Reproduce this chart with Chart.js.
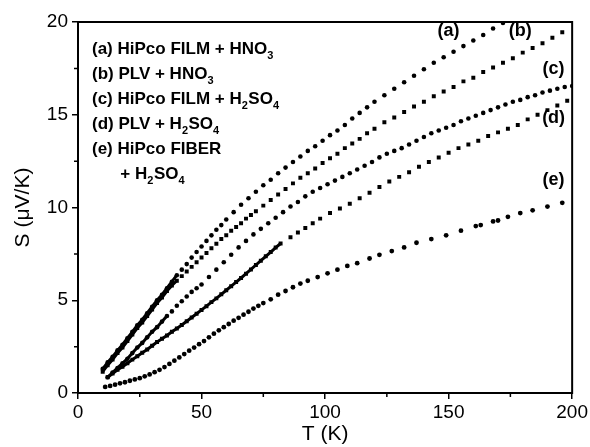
<!DOCTYPE html>
<html>
<head>
<meta charset="utf-8">
<script src="https://cdn.jsdelivr.net/npm/chart.js@4.4.1/dist/chart.umd.min.js"></script>
<style>
  html, body { margin: 0; padding: 0; background: #fff; }
  #wrap { width: 590px; height: 447px; }
</style>
</head>
<body>
<div id="wrap"><canvas id="seebeck" width="590" height="447"></canvas></div>
<script>
// --- data (T in K, S in uV/K) ---
const tA = [10,12,14,16,18,20,22,24,26,28,30,32,34,36,38,40,42,44,46,48,50,52,54,56,58,60,63,66,69,72,75,78,81,84,87,90,93,96,99,102,105,108,111,114,117,120,124,128,132,136,140,144,148,152,156,160,164,168,172];
const sA = [1.3,1.65,1.95,2.3,2.6,2.95,3.3,3.65,3.95,4.3,4.65,5.0,5.3,5.65,6.0,6.35,6.65,6.95,7.3,7.6,7.9,8.2,8.5,8.8,9.05,9.35,9.75,10.15,10.5,10.85,11.2,11.5,11.85,12.15,12.45,12.75,13.05,13.3,13.6,13.9,14.15,14.45,14.8,15.1,15.4,15.7,16.05,16.4,16.75,17.1,17.45,17.8,18.1,18.4,18.7,19.0,19.3,19.65,19.95];

const tB = [10,12,14,16,18,20,22,24,26,28,30,32,34,36,38,40,42,44,46,48,50,52,54,56,58,60,62,64,66,68,70,72,75,78,81,84,87,90,93,96,99,102,105,108,111,114,117,120,124,128,132,136,140,144,148,152,156,160,164,168,172,176,180,184,188,192,196];
const sB = [1.15,1.5,1.8,2.15,2.45,2.8,3.15,3.5,3.8,4.15,4.5,4.85,5.15,5.5,5.8,6.05,6.3,6.55,6.8,7.05,7.3,7.55,7.8,8.05,8.3,8.5,8.75,8.95,9.15,9.4,9.6,9.8,10.1,10.4,10.7,11.0,11.3,11.6,11.85,12.1,12.4,12.65,12.9,13.2,13.45,13.7,14.0,14.25,14.6,14.85,15.15,15.45,15.7,16.0,16.25,16.5,16.8,17.0,17.3,17.55,17.8,18.05,18.35,18.6,18.85,19.15,19.45];

const tC = [12,14,16,18,20,22,24,26,28,30,32,34,36,38,40,42,44,46,48,50,53,56,59,62,65,68,71,74,77,80,83,86,89,92,95,98,101,104,107,110,113,116,119,122,125,128,131,134,137,140,143,146,149,152,155,158,161,164,167,170,173,176,179,182,185,188,191,194,197,200];
const sC = [0.85,1.1,1.35,1.6,1.85,2.15,2.45,2.7,3.0,3.3,3.55,3.85,4.15,4.4,4.7,4.95,5.2,5.45,5.65,5.85,6.25,6.65,7.05,7.45,7.85,8.2,8.55,8.85,9.15,9.45,9.75,10.05,10.3,10.6,10.85,11.05,11.25,11.45,11.65,11.85,12.05,12.25,12.45,12.7,12.9,13.05,13.2,13.4,13.6,13.8,14.0,14.15,14.3,14.45,14.65,14.8,14.95,15.1,15.25,15.4,15.55,15.7,15.8,15.95,16.05,16.2,16.3,16.4,16.5,16.55];

const tD = [12,14,16,18,20,22,24,26,28,30,32,34,36,38,40,42,44,46,48,50,52,54,56,58,60,62,64,66,68,70,72,74,76,78,80,82,86,89,92,95,98,102,106,110,114,118,122,126,130,134,138,142,146,150,154,158,162,166,170,174,178,182,186,190,194,198];
const sD = [0.85,1.05,1.25,1.42,1.6,1.8,1.98,2.17,2.35,2.55,2.75,2.92,3.1,3.3,3.48,3.67,3.87,4.07,4.27,4.48,4.68,4.9,5.1,5.32,5.54,5.76,5.98,6.2,6.43,6.66,6.9,7.13,7.37,7.6,7.84,8.06,8.4,8.65,8.9,9.15,9.4,9.7,9.95,10.2,10.5,10.8,11.1,11.4,11.65,11.9,12.2,12.45,12.7,12.95,13.2,13.4,13.6,13.85,14.05,14.25,14.45,14.75,15.0,15.25,15.5,15.75];

const tE = [11,13,15,17,19,21,23,25,27,29,31,33,35,37,39,41,43,45,47,49,51,53,55,57,59,61,63,65,67,69,71,73,75,78,81,84,87,90,93,97,101,105,109,113,118,122,127,132,137,143,149,155,161,163,168,170,174,179,184,190,196];
const sE = [0.33,0.38,0.45,0.52,0.58,0.66,0.73,0.8,0.9,1.0,1.12,1.25,1.4,1.57,1.74,1.92,2.1,2.28,2.45,2.63,2.8,3.0,3.2,3.38,3.55,3.72,3.9,4.05,4.22,4.38,4.55,4.7,4.85,5.05,5.3,5.5,5.7,5.9,6.05,6.25,6.45,6.65,6.85,7.0,7.25,7.45,7.65,7.85,8.1,8.3,8.5,8.75,9.0,9.05,9.25,9.3,9.5,9.7,9.85,10.05,10.25];

// dense (near-continuous) low-T part of each run
const denseUpTo = { a: 40, b: 40, c: 36, d: 82, e: 0 };

const legendLines = [
    [['(a) HiPco FILM + HNO', 0], ['3', 1]],
    [['(b) PLV + HNO', 0], ['3', 1]],
    [['(c) HiPco FILM + H', 0], ['2', 1], ['SO', 0], ['4', 1]],
    [['(d) PLV + H', 0], ['2', 1], ['SO', 0], ['4', 1]],
    [['(e) HiPco FIBER', 0]],
    [['      + H', 0], ['2', 1], ['SO', 0], ['4', 1]]
];

// curve tags, placed in data coordinates
const curveTags = [
    { text: '(a)', x: 150, y: 19.5 },
    { text: '(b)', x: 179, y: 19.5 },
    { text: '(c)', x: 192.5, y: 17.45 },
    { text: '(d)', x: 192.5, y: 14.8 },
    { text: '(e)', x: 192.5, y: 11.5 }
];

const xMinor = [25, 75, 125, 175];
const yMinor = [2.5, 7.5, 12.5, 17.5];

const FONT = "'Liberation Sans', Arial, Helvetica, sans-serif";
Chart.defaults.font.family = FONT;
Chart.defaults.color = '#000';

function pairs(xs, ys) {
    return xs.map((x, i) => ({ x: x, y: ys[i] }));
}

function run(key, xs, ys, style, r) {
    const limit = denseUpTo[key];
    return {
        label: key,
        data: pairs(xs, ys),
        showLine: limit > 0,
        borderColor: '#000',
        borderWidth: 3,
        backgroundColor: '#000',
        pointBackgroundColor: '#000',
        pointBorderWidth: 0,
        pointRadius: r,
        pointStyle: style,
        segment: {
            borderColor: ctx => ctx.p1.parsed.x <= limit ? '#000' : 'rgba(0,0,0,0)'
        }
    };
}

const decorPlugin = {
    id: 'decor',
    afterDraw(chart) {
        const ctx = chart.ctx;
        const area = chart.chartArea;
        const xs = chart.scales.x;
        const ys = chart.scales.y;
        ctx.save();
        // frame
        ctx.strokeStyle = '#000';
        ctx.lineWidth = 2;
        ctx.strokeRect(area.left, area.top, area.right - area.left, area.bottom - area.top);
        // minor ticks
        ctx.lineWidth = 1.5;
        ctx.beginPath();
        xMinor.forEach(v => {
            const p = xs.getPixelForValue(v);
            ctx.moveTo(p, area.bottom);
            ctx.lineTo(p, area.bottom + 4);
        });
        yMinor.forEach(v => {
            const p = ys.getPixelForValue(v);
            ctx.moveTo(area.left, p);
            ctx.lineTo(area.left - 4, p);
        });
        ctx.stroke();

        // legend block
        ctx.fillStyle = '#000';
        ctx.textBaseline = 'alphabetic';
        ctx.textAlign = 'left';
        legendLines.forEach((runs, i) => {
            let x = 92;
            const y = 54 + i * 25;
            runs.forEach(([txt, sub]) => {
                ctx.font = sub ? 'bold 11px ' + FONT : 'bold 17px ' + FONT;
                ctx.fillText(txt, x, sub ? y + 5 : y);
                x += ctx.measureText(txt).width + (sub ? 0.5 : 0);
            });
        });

        // curve tags
        ctx.font = 'bold 18px ' + FONT;
        ctx.textAlign = 'center';
        ctx.textBaseline = 'middle';
        curveTags.forEach(t => {
            ctx.fillText(t.text, xs.getPixelForValue(t.x), ys.getPixelForValue(t.y));
        });
        ctx.restore();
    }
};

new Chart(document.getElementById('seebeck'), {
    type: 'scatter',
    data: {
        datasets: [
            run('a', tA, sA, 'circle', 2.3),
            run('b', tB, sB, 'rect', 2.8),
            run('c', tC, sC, 'circle', 2.3),
            run('d', tD, sD, 'rect', 2.8),
            run('e', tE, sE, 'circle', 2.4)
        ]
    },
    options: {
        responsive: false,
        animation: false,
        layout: { padding: { top: 22, right: 17, left: 0, bottom: 0 } },
        plugins: { legend: { display: false }, tooltip: { enabled: false } },
        scales: {
            x: {
                type: 'linear',
                min: 0, max: 200,
                afterFit: s => { s.height = 54; },
                border: { display: true, color: '#000', width: 2 },
                grid: { drawOnChartArea: false, drawTicks: true, tickLength: 6, color: '#000', lineWidth: 1.5 },
                ticks: { stepSize: 50, padding: 2, font: { size: 19 }, color: '#000', maxRotation: 0 },
                title: { display: true, text: 'T (K)', font: { size: 21 }, color: '#000', padding: { top: 0, bottom: 0 } }
            },
            y: {
                type: 'linear',
                min: 0, max: 20,
                afterFit: s => { s.width = 78; },
                border: { display: true, color: '#000', width: 2 },
                grid: { drawOnChartArea: false, drawTicks: true, tickLength: 6, color: '#000', lineWidth: 1.5 },
                ticks: { stepSize: 5, padding: 4, font: { size: 19 }, color: '#000' },
                title: { display: true, text: 'S (\u03BCV/K)', font: { size: 21 }, color: '#000', padding: { top: 11, bottom: 0 } }
            }
        }
    },
    plugins: [decorPlugin]
});
</script>
</body>
</html>
